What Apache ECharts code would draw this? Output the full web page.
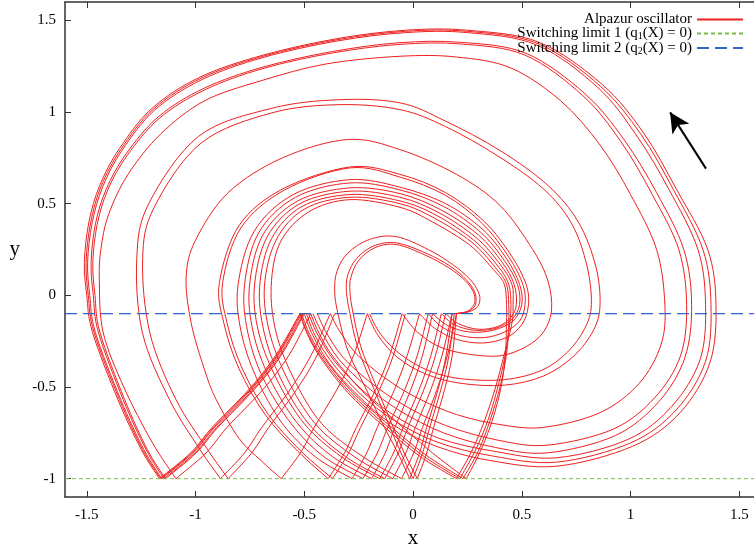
<!DOCTYPE html>
<html>
<head>
<meta charset="utf-8">
<title>Alpazur oscillator</title>
<script src="https://cdn.jsdelivr.net/npm/echarts@6.0.0/dist/echarts.min.js"></script>
<style>
	html, body { margin: 0; padding: 0; background: #fff; }
	#main { width: 754px; height: 550px; }
</style>
</head>
<body>
<div id="main"></div>
<script>
// axis ranges and ticks
var xMin = -1.6, xMax = 1.6, yMin = -1.1, yMax = 1.6;
var xTicks = [-1.5, -1, -0.5, 0, 0.5, 1, 1.5];
var yTicks = [-1, -0.5, 0, 0.5, 1, 1.5];

// switching limits (horizontal levels)
var limitNames = ['Switching limit 1 (q1(X) = 0)', 'Switching limit 2 (q2(X) = 0)'];
var limitLevels = [-1, -0.1];

// arrow showing the direction of rotation
var arrowTail = [1.347, 0.691];
var arrowHead = [1.182, 0.998];

// big turns of the spiral
var outerLoops = [
	[[-0.50,-0.10],[-0.46,-0.22],[-0.38,-0.38],[-0.25,-0.55],[-0.10,-0.70],[0.10,-0.82],[0.35,-0.90],[0.66,-0.932],[1.01,-0.823],[1.227,-0.641],[1.365,-0.368],[1.393,-0.05],[1.355,0.25],[1.212,0.577],[1.06,0.886],[0.87,1.15],[0.58,1.38],[0.25,1.446],[-0.034,1.446],[-0.35,1.40],[-0.69,1.31],[-0.98,1.19],[-1.2,1.02],[-1.35,0.80],[-1.44,0.60],[-1.49,0.40],[-1.511,0.18],[-1.50,0.0],[-1.473,-0.204],[-1.357,-0.568],[-1.25,-0.84],[-1.166,-1]],
	[[-0.49,-0.10],[-0.45,-0.22],[-0.37,-0.37],[-0.24,-0.54],[-0.09,-0.68],[0.11,-0.80],[0.36,-0.875],[0.66,-0.91],[1.0,-0.805],[1.21,-0.625],[1.345,-0.36],[1.37,-0.05],[1.333,0.25],[1.197,0.577],[1.048,0.878],[0.86,1.142],[0.575,1.373],[0.25,1.44],[-0.034,1.44],[-0.35,1.394],[-0.69,1.304],[-0.975,1.184],[-1.194,1.015],[-1.343,0.796],[-1.433,0.597],[-1.482,0.398],[-1.503,0.18],[-1.493,0.0],[-1.466,-0.204],[-1.35,-0.568],[-1.244,-0.84],[-1.16,-1]],
	[[-0.48,-0.10],[-0.44,-0.21],[-0.36,-0.36],[-0.23,-0.52],[-0.08,-0.66],[0.12,-0.78],[0.37,-0.85],[0.66,-0.886],[0.99,-0.785],[1.19,-0.605],[1.32,-0.35],[1.345,-0.05],[1.31,0.25],[1.177,0.577],[1.03,0.868],[0.85,1.133],[0.57,1.365],[0.25,1.433],[-0.034,1.433],[-0.35,1.387],[-0.69,1.297],[-0.97,1.177],[-1.188,1.01],[-1.337,0.792],[-1.426,0.594],[-1.475,0.396],[-1.496,0.18],[-1.486,0.0],[-1.46,-0.204],[-1.344,-0.568],[-1.238,-0.84],[-1.155,-1]],
	[[-0.46,-0.10],[-0.42,-0.20],[-0.34,-0.35],[-0.21,-0.50],[-0.06,-0.63],[0.14,-0.75],[0.38,-0.83],[0.62,-0.859],[0.93,-0.765],[1.13,-0.58],[1.25,-0.34],[1.281,-0.05],[1.245,0.25],[1.12,0.56],[0.97,0.85],[0.79,1.10],[0.52,1.32],[0.22,1.38],[-0.06,1.378],[-0.37,1.33],[-0.69,1.245],[-0.96,1.13],[-1.17,0.975],[-1.32,0.77],[-1.41,0.58],[-1.46,0.39],[-1.48,0.18],[-1.47,0.0],[-1.446,-0.204],[-1.333,-0.568],[-1.228,-0.84],[-1.145,-1]],
	[[-0.44,-0.10],[-0.40,-0.20],[-0.32,-0.34],[-0.19,-0.48],[-0.04,-0.60],[0.15,-0.71],[0.39,-0.79],[0.62,-0.817],[0.92,-0.73],[1.11,-0.56],[1.23,-0.33],[1.258,-0.05],[1.222,0.25],[1.10,0.55],[0.955,0.84],[0.78,1.09],[0.515,1.31],[0.22,1.371],[-0.06,1.369],[-0.37,1.322],[-0.69,1.237],[-0.955,1.122],[-1.164,0.968],[-1.313,0.765],[-1.403,0.576],[-1.452,0.387],[-1.472,0.18],[-1.462,0.0],[-1.439,-0.204],[-1.326,-0.568],[-1.222,-0.84],[-1.138,-1]],
	[[-0.38,-0.10],[-0.34,-0.19],[-0.26,-0.32],[-0.13,-0.45],[0.02,-0.56],[0.20,-0.65],[0.40,-0.705],[0.60,-0.72],[0.86,-0.64],[1.04,-0.48],[1.14,-0.27],[1.158,-0.05],[1.12,0.25],[1.0,0.55],[0.86,0.82],[0.68,1.06],[0.45,1.24],[0.2,1.30],[-0.06,1.304],[-0.4,1.262],[-0.7,1.17],[-0.96,1.06],[-1.16,0.88],[-1.31,0.66],[-1.40,0.44],[-1.435,0.25],[-1.442,0.08],[-1.425,-0.20],[-1.33,-0.50],[-1.20,-0.80],[-1.09,-1]]
];

var middleLoops = [
	[[-0.21,-0.10],[-0.16,-0.22],[-0.07,-0.34],[0.06,-0.43],[0.22,-0.48],[0.42,-0.49],[0.60,-0.44],[0.74,-0.33],[0.83,-0.19],[0.86,-0.05],[0.84,0.16],[0.76,0.40],[0.62,0.60],[0.40,0.79],[0.15,0.95],[-0.06,1.05],[-0.34,1.067],[-0.65,1.02],[-0.985,0.868],[-1.215,0.50],[-1.27,0.20],[-1.244,-0.204],[-1.12,-0.568],[-0.98,-0.84],[-0.885,-1]],
	[[-0.20,-0.10],[-0.15,-0.21],[-0.06,-0.32],[0.07,-0.41],[0.22,-0.455],[0.42,-0.46],[0.59,-0.41],[0.71,-0.31],[0.79,-0.18],[0.82,-0.05],[0.80,0.16],[0.73,0.39],[0.60,0.58],[0.39,0.76],[0.15,0.92],[-0.06,1.013],[-0.34,1.04],[-0.65,0.995],[-0.975,0.83],[-1.19,0.48],[-1.243,0.20],[-1.21,-0.204],[-1.09,-0.568],[-0.945,-0.84],[-0.85,-1]],
	[[-0.05,-0.10],[0.02,-0.20],[0.12,-0.28],[0.25,-0.32],[0.40,-0.33],[0.52,-0.28],[0.60,-0.20],[0.637,-0.08],[0.62,0.08],[0.55,0.25],[0.40,0.49],[0.20,0.66],[-0.06,0.795],[-0.30,0.85],[-0.60,0.75],[-0.85,0.56],[-1.0,0.30],[-1.043,0.10],[-1.02,-0.15],[-0.96,-0.40],[-0.905,-0.568],[-0.80,-0.78],[-0.70,-0.90],[-0.606,-1]],
	[[0.03,-0.10],[0.10,-0.18],[0.20,-0.24],[0.32,-0.26],[0.43,-0.23],[0.50,-0.16],[0.53,-0.06],[0.52,0.06],[0.45,0.22],[0.33,0.40],[0.15,0.56],[-0.06,0.66],[-0.29,0.70],[-0.60,0.58],[-0.80,0.38],[-0.89,0.07],[-0.87,-0.15],[-0.80,-0.40],[-0.68,-0.65],[-0.53,-0.85],[-0.39,-1]],
	[[0.07,-0.10],[0.13,-0.17],[0.22,-0.22],[0.33,-0.23],[0.42,-0.20],[0.49,-0.14],[0.515,-0.05],[0.505,0.06],[0.44,0.21],[0.32,0.39],[0.15,0.545],[-0.06,0.645],[-0.29,0.695],[-0.59,0.575],[-0.79,0.37],[-0.875,0.07],[-0.855,-0.15],[-0.785,-0.40],[-0.665,-0.65],[-0.515,-0.85],[-0.37,-1]]
];

var innerLoops = [
	[[0.09,-0.10],[0.16,-0.165],[0.26,-0.20],[0.37,-0.19],[0.46,-0.14],[0.50,-0.05],[0.49,0.06],[0.43,0.20],[0.32,0.36],[0.15,0.50],[-0.06,0.59],[-0.29,0.631],[-0.55,0.55],[-0.73,0.35],[-0.805,0.05],[-0.79,-0.20],[-0.72,-0.45],[-0.60,-0.70],[-0.45,-0.88],[-0.28,-1]],
	[[0.13,-0.10],[0.19,-0.16],[0.28,-0.19],[0.38,-0.18],[0.455,-0.13],[0.49,-0.05],[0.48,0.06],[0.42,0.19],[0.31,0.345],[0.14,0.485],[-0.06,0.575],[-0.29,0.613],[-0.54,0.535],[-0.71,0.34],[-0.775,0.05],[-0.76,-0.20],[-0.69,-0.45],[-0.56,-0.70],[-0.41,-0.88],[-0.23,-1]],
	[[0.15,-0.10],[0.21,-0.155],[0.30,-0.185],[0.39,-0.17],[0.45,-0.12],[0.475,-0.05],[0.465,0.06],[0.41,0.18],[0.30,0.33],[0.13,0.465],[-0.06,0.555],[-0.29,0.586],[-0.53,0.515],[-0.69,0.33],[-0.752,0.05],[-0.735,-0.20],[-0.66,-0.45],[-0.53,-0.70],[-0.37,-0.88],[-0.19,-1]],
	[[0.20,-1],[0.27,-0.85],[0.33,-0.68],[0.38,-0.50],[0.42,-0.32],[0.455,-0.15],[0.46,-0.05],[0.455,0.06],[0.40,0.17],[0.29,0.315],[0.12,0.45],[-0.06,0.535],[-0.29,0.568],[-0.52,0.50],[-0.67,0.32],[-0.729,0.05],[-0.71,-0.20],[-0.63,-0.45],[-0.50,-0.70],[-0.33,-0.88],[-0.153,-1]],
	[[0.215,-1],[0.285,-0.85],[0.345,-0.68],[0.39,-0.50],[0.425,-0.32],[0.445,-0.15],[0.45,-0.05],[0.44,0.06],[0.39,0.16],[0.28,0.30],[0.11,0.435],[-0.06,0.515],[-0.29,0.55],[-0.51,0.485],[-0.65,0.31],[-0.705,0.05],[-0.685,-0.20],[-0.61,-0.45],[-0.48,-0.70],[-0.31,-0.88],[-0.13,-1]],
	[[0.23,-1],[0.30,-0.85],[0.355,-0.68],[0.40,-0.50],[0.43,-0.32],[0.44,-0.15],[0.44,-0.05],[0.43,0.06],[0.38,0.15],[0.27,0.29],[0.10,0.42],[-0.06,0.50],[-0.29,0.535],[-0.50,0.47],[-0.63,0.30],[-0.683,0.05],[-0.66,-0.20],[-0.58,-0.45],[-0.45,-0.70],[-0.27,-0.88],[-0.093,-1]],
	[[0.245,-1],[0.31,-0.85],[0.365,-0.68],[0.405,-0.50],[0.425,-0.32],[0.43,-0.15],[0.43,-0.05],[0.42,0.06],[0.37,0.14],[0.26,0.275],[0.09,0.40],[-0.06,0.48],[-0.29,0.522],[-0.48,0.455],[-0.61,0.29],[-0.652,0.05],[-0.63,-0.20],[-0.55,-0.45],[-0.42,-0.70],[-0.23,-0.88],[-0.053,-1]]
];

var smallLoops = [
	[[0.18,-0.10],[0.24,-0.095],[0.29,-0.07],[0.307,-0.03],[0.30,0.02],[0.26,0.09],[0.18,0.17],[0.07,0.25],[-0.076,0.32],[-0.2,0.305],[-0.30,0.23],[-0.35,0.13],[-0.36,0.02],[-0.345,-0.10],[-0.30,-0.30],[-0.22,-0.50],[-0.14,-0.70],[-0.07,-0.86],[-0.015,-1]],
	[[0.19,-0.10],[0.245,-0.09],[0.28,-0.065],[0.29,-0.03],[0.283,0.02],[0.245,0.085],[0.17,0.16],[0.06,0.23],[-0.076,0.286],[-0.18,0.27],[-0.26,0.20],[-0.30,0.11],[-0.306,0.02],[-0.29,-0.10],[-0.255,-0.28],[-0.19,-0.48],[-0.12,-0.68],[-0.055,-0.86],[0.0,-1]],
	[[0.20,-0.10],[0.25,-0.088],[0.275,-0.06],[0.285,-0.03],[0.277,0.02],[0.24,0.08],[0.165,0.15],[0.055,0.22],[-0.076,0.277],[-0.175,0.26],[-0.25,0.19],[-0.285,0.10],[-0.29,0.02],[-0.275,-0.10],[-0.24,-0.28],[-0.175,-0.48],[-0.105,-0.68],[-0.04,-0.86],[0.02,-1]]
];

// arcs from limit 2 straight down to limit 1
var fallingArms = [
	[[-0.52,-0.10],[-0.49,-0.20],[-0.43,-0.332],[-0.30,-0.53],[-0.153,-0.695],[0.03,-0.877],[0.20,-1]],
	[[-0.518,-0.10],[-0.487,-0.20],[-0.425,-0.33],[-0.293,-0.525],[-0.143,-0.69],[0.04,-0.87],[0.215,-1]],
	[[-0.512,-0.10],[-0.48,-0.20],[-0.418,-0.328],[-0.285,-0.52],[-0.133,-0.685],[0.052,-0.865],[0.23,-1]],
	[[-0.47,-0.10],[-0.435,-0.20],[-0.37,-0.33],[-0.235,-0.52],[-0.08,-0.685],[0.09,-0.86],[0.245,-1]]
];

// arcs from limit 1 back up to limit 2
var risingArms = [
	[[-1.166,-1],[-1.023,-0.86],[-0.923,-0.72],[-0.755,-0.514],[-0.633,-0.33],[-0.52,-0.10]],
	[[-1.16,-1],[-1.017,-0.86],[-0.917,-0.72],[-0.749,-0.514],[-0.627,-0.33],[-0.518,-0.10]],
	[[-1.155,-1],[-1.012,-0.86],[-0.912,-0.72],[-0.744,-0.514],[-0.622,-0.33],[-0.512,-0.10]],
	[[-1.145,-1],[-1.003,-0.86],[-0.903,-0.72],[-0.736,-0.514],[-0.614,-0.33],[-0.505,-0.10]],
	[[-1.138,-1],[-0.997,-0.86],[-0.897,-0.72],[-0.73,-0.514],[-0.608,-0.33],[-0.50,-0.10]],
	[[-1.09,-1],[-0.952,-0.86],[-0.855,-0.72],[-0.69,-0.514],[-0.572,-0.33],[-0.47,-0.10]],
	[[-0.885,-1],[-0.775,-0.86],[-0.695,-0.72],[-0.565,-0.514],[-0.47,-0.33],[-0.38,-0.10]],
	[[-0.85,-1],[-0.742,-0.86],[-0.663,-0.72],[-0.535,-0.514],[-0.442,-0.33],[-0.36,-0.10]],
	[[-0.606,-1],[-0.518,-0.86],[-0.454,-0.72],[-0.35,-0.514],[-0.274,-0.33],[-0.21,-0.10]],
	[[-0.39,-1],[-0.315,-0.86],[-0.26,-0.72],[-0.172,-0.514],[-0.108,-0.33],[-0.05,-0.10]],
	[[-0.37,-1],[-0.296,-0.86],[-0.241,-0.72],[-0.154,-0.514],[-0.091,-0.33],[-0.035,-0.10]],
	[[-0.28,-1],[-0.213,-0.86],[-0.164,-0.72],[-0.085,-0.514],[-0.027,-0.33],[0.03,-0.10]],
	[[-0.23,-1],[-0.164,-0.86],[-0.116,-0.72],[-0.038,-0.514],[0.019,-0.33],[0.07,-0.10]],
	[[-0.19,-1],[-0.128,-0.86],[-0.083,-0.72],[-0.01,-0.514],[0.043,-0.33],[0.09,-0.10]],
	[[-0.153,-1],[-0.09,-0.86],[-0.045,-0.72],[0.028,-0.514],[0.082,-0.33],[0.13,-0.10]],
	[[-0.13,-1],[-0.068,-0.86],[-0.023,-0.72],[0.05,-0.514],[0.103,-0.33],[0.15,-0.10]],
	[[-0.093,-1],[-0.033,-0.86],[0.011,-0.72],[0.082,-0.514],[0.133,-0.33],[0.18,-0.10]],
	[[-0.053,-1],[0.003,-0.86],[0.044,-0.72],[0.11,-0.514],[0.158,-0.33],[0.20,-0.10]],
	[[-0.015,-1],[0.03,-0.86],[0.063,-0.72],[0.115,-0.514],[0.152,-0.33],[0.18,-0.10]],
	[[0.0,-1],[0.044,-0.86],[0.077,-0.72],[0.128,-0.514],[0.165,-0.33],[0.19,-0.10]],
	[[0.02,-1],[0.063,-0.86],[0.095,-0.72],[0.145,-0.514],[0.18,-0.33],[0.20,-0.10]]
];

var serif = "'Liberation Serif', 'DejaVu Serif', serif";
var oscName = 'Alpazur oscillator';
var oscColor = '#ee2020';

var myChart = echarts.init(document.getElementById('main'));

var segments = [].concat(outerLoops, middleLoops, innerLoops, smallLoops, fallingArms, risingArms);

// smooth curve (catmull-rom -> bezier) through the pixel positions of one segment
function curvePath(points, api) {
	var p = points.map(function (d) { return api.coord(d); });
	var d = 'M' + p[0][0] + ' ' + p[0][1];
	for (var i = 0; i < p.length - 1; i++) {
		var p0 = p[i > 0 ? i - 1 : i], p1 = p[i], p2 = p[i + 1];
		var p3 = p[i + 2 < p.length ? i + 2 : i + 1];
		d += ' C' + (p1[0] + (p2[0] - p0[0]) / 6) + ' ' + (p1[1] + (p2[1] - p0[1]) / 6) +
			' ' + (p2[0] - (p3[0] - p1[0]) / 6) + ' ' + (p2[1] - (p3[1] - p1[1]) / 6) +
			' ' + p2[0] + ' ' + p2[1];
	}
	return d;
}

var series = [
	{
		// carries the legend entry only
		name: oscName,
		type: 'line',
		data: [],
		showSymbol: false,
		lineStyle: { color: oscColor, width: 1 },
		itemStyle: { color: oscColor, opacity: 0 }
	},
	{
		name: oscName,
		type: 'custom',
		silent: true,
		clip: true,
		z: 2,
		data: segments.map(function () { return [0, 0]; }),
		renderItem: function (params, api) {
			return {
				type: 'path',
				shape: { pathData: curvePath(segments[params.dataIndex], api) },
				style: { stroke: oscColor, fill: null, lineWidth: 1 }
			};
		}
	},
	{
		name: limitNames[0],
		type: 'line',
		data: [[xMin, limitLevels[0]], [xMax, limitLevels[0]]],
		showSymbol: false,
		silent: true,
		z: 3,
		lineStyle: { color: '#74bf4a', width: 1, type: [4, 3] },
		itemStyle: { color: '#74bf4a', opacity: 0 }
	},
	{
		name: limitNames[1],
		type: 'line',
		data: [[xMin, limitLevels[1]], [xMax, limitLevels[1]]],
		showSymbol: false,
		silent: true,
		z: 3,
		lineStyle: { color: '#2f66cc', width: 1.4, type: [12, 6] },
		itemStyle: { color: '#2f66cc', opacity: 0 }
	},
	{
		name: 'direction',
		type: 'line',
		data: [],
		silent: true,
		markLine: {
			silent: true,
			symbol: ['none', 'arrow'],
			symbolSize: [15, 20],
			label: { show: false },
			lineStyle: { color: '#000', width: 2, type: 'solid' },
			data: [[{ coord: arrowTail }, { coord: arrowHead }]]
		}
	}
];

function axisBase(extra) {
	var a = {
		type: 'value',
		splitLine: { show: false },
		axisLine: { show: true, onZero: false, lineStyle: { color: '#333', width: 1.5 } },
		axisTick: { show: true, inside: true, length: 6, lineStyle: { color: '#333', width: 1 } },
		axisLabel: { show: false }
	};
	for (var k in extra) a[k] = extra[k];
	return a;
}

var option = {
	animation: false,
	backgroundColor: '#fff',
	grid: { left: 65, top: 2, width: 696, height: 495, containLabel: false, outerBoundsMode: 'none' },
	legend: {
		data: [oscName].concat(limitNames),
		orient: 'vertical',
		right: 5,
		top: 7,
		align: 'right',
		itemWidth: 46,
		itemHeight: 10,
		itemGap: -1,
		selectedMode: false,
		formatter: function (name) {
			return name.replace(/q(\d)\(/, 'q{s|$1}(');
		},
		textStyle: {
			fontFamily: serif,
			fontSize: 15,
			color: '#000',
			rich: {
				s: { fontFamily: serif, fontSize: 10, color: '#000', verticalAlign: 'bottom', padding: [6, 0, 0, 0] }
			}
		}
	},
	xAxis: [
		axisBase({
			min: xMin, max: xMax, position: 'bottom',
			axisTick: { show: true, inside: true, length: 6, customValues: xTicks, lineStyle: { color: '#333' } },
			axisLabel: { show: true, customValues: xTicks, margin: 11, fontFamily: serif, fontSize: 15, color: '#000' },
			name: 'x', nameLocation: 'middle', nameGap: 31,
			nameTextStyle: { fontFamily: serif, fontSize: 21, color: '#000' }
		}),
		axisBase({
			min: xMin, max: xMax, position: 'top',
			axisTick: { show: true, inside: true, length: 6, customValues: xTicks, lineStyle: { color: '#333' } }
		})
	],
	yAxis: [
		axisBase({
			min: yMin, max: yMax, position: 'left',
			axisTick: { show: true, inside: true, length: 6, customValues: yTicks, lineStyle: { color: '#333' } },
			axisLabel: { show: true, customValues: yTicks, margin: 9, fontFamily: serif, fontSize: 15, color: '#000' },
			name: 'y', nameLocation: 'middle', nameGap: 45, nameRotate: 0,
			nameTextStyle: { fontFamily: serif, fontSize: 21, color: '#000', padding: [0, 0, 8, 0] }
		}),
		axisBase({
			min: yMin, max: yMax, position: 'right',
			axisTick: { show: true, inside: true, length: 6, customValues: yTicks, lineStyle: { color: '#333' } }
		})
	],
	series: series
};
myChart.setOption(option);
</script>
</body>
</html>
